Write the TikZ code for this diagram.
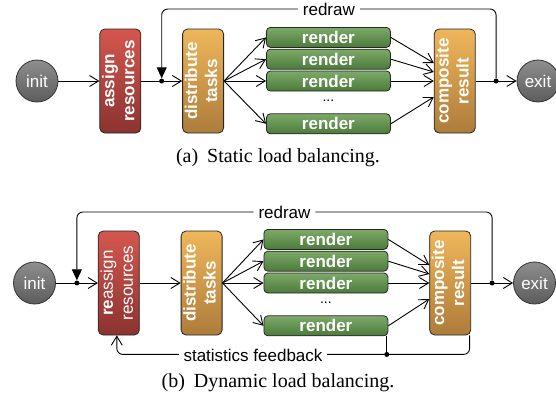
\documentclass[tikz,border=0pt]{standalone}
\usepackage{fontspec}
\setmainfont{Liberation Serif}
\setsansfont{Liberation Sans}
\usepackage{tikz}
\usetikzlibrary{positioning,calc,arrows.meta}
\definecolor{greytop}{HTML}{8E8E8E}
\definecolor{greybot}{HTML}{5C5C5C}
\definecolor{redtop}{HTML}{D4574F}
\definecolor{redbot}{HTML}{8B3330}
\definecolor{orangetop}{HTML}{EFB65A}
\definecolor{orangebot}{HTML}{AD7C3B}
\definecolor{greentop}{HTML}{7DAA68}
\definecolor{greenbot}{HTML}{4B7A3B}
\newcommand{\sansbig}{\sffamily\fontsize{17}{20}\selectfont}
\newcommand{\vtext}[2]{\rotatebox{90}{\begin{tabular}{@{}c@{}}#1\\#2\end{tabular}}}
\tikzstyle{term} = [circle, minimum size=42pt, inner sep=0pt, draw=black!80, line width=0.8pt, top color=greytop, bottom color=greybot, text=white, font=\sansbig]
\tikzstyle{bigbox} = [rectangle, rounded corners=5pt, minimum width=41pt, minimum height=104pt, inner sep=0pt, draw=black!85, line width=0.8pt, text=white, font=\sansbig\bfseries]
\tikzstyle{redbox} = [bigbox, top color=redtop, bottom color=redbot]
\tikzstyle{orangebox} = [bigbox, top color=orangetop, bottom color=orangebot]
\tikzstyle{renderbox} = [rectangle, rounded corners=4pt, minimum width=124pt, minimum height=20pt, inner sep=0pt, draw=black!85, line width=0.8pt, top color=greentop, bottom color=greenbot, text=white, font=\sansbig\bfseries]
\tikzstyle{gap} = [inner sep=0pt, font=\sffamily\fontsize{14}{14}\selectfont]
\tikzstyle{dot} = [circle, fill=black, inner sep=0pt, minimum size=5pt]
\tikzstyle{arrow} = [line width=0.9pt, -{Straight Barb[length=9pt,width=11pt]}]
\tikzstyle{loopback} = [line width=0.9pt, rounded corners=6pt, -{Triangle[length=11pt,width=10pt]}]
\tikzstyle{feedback} = [line width=0.9pt, rounded corners=6pt, -{Straight Barb[length=9pt,width=11pt]}]
\tikzstyle{lbl} = [fill=white, inner sep=5pt, font=\sansbig]
\tikzstyle{caption} = [font=\fontsize{20}{24}\selectfont]

\begin{document}
\begin{tikzpicture}
    \useasboundingbox (0,0) rectangle (556pt,-405pt);

    % (a) static
    \node (inita) [term] at (37pt,-81pt) {init};
    \node (assign) [redbox, right=41pt of inita] {\vtext{assign}{resources}};
    \node (dista) [orangebox, right=41pt of assign] {\vtext{distribute}{tasks}};
    \node (ra3) [renderbox, right=42pt of dista] {render};
    \node (ra2) [renderbox, above=1pt of ra3] {render};
    \node (ra1) [renderbox, above=1pt of ra2] {render};
    \node (ra5) [renderbox, below=22pt of ra3] {render};
    \node (dotsa) [gap, yshift=2pt] at ($(ra3)!.5!(ra5)$) {...};
    \node (compa) [orangebox, right=43pt of ra3] {\vtext{composite}{result}};
    \node (exita) [term, right=41pt of compa] {exit};

    \node (dota) [dot] at ($(assign.east)!.5!(dista.west)$) {};
    \node (dotb) [dot] at ($(compa.east)!.5!(exita.west)$) {};
    \coordinate (topa) at ($(dota)+(0,72pt)$);

    \draw [arrow] (inita) -- (assign);
    \draw [arrow] (assign) -- (dista);
    \draw [arrow] (dista.east) -- (ra1.west);
    \draw [arrow] (dista.east) -- (ra2.west);
    \draw [arrow] (dista.east) -- (ra3.west);
    \draw [arrow] (dista.east) -- (ra5.west);
    \draw [arrow] (ra1.east) -- ([yshift=18pt]compa.west);
    \draw [arrow] (ra2.east) -- ([yshift=9pt]compa.west);
    \draw [arrow] (ra3.east) -- (compa.west);
    \draw [arrow] (ra5.east) -- ([yshift=-16pt]compa.west);
    \draw [arrow] (compa) -- (exita);
    \draw [loopback] (dotb) |- node [pos=.75, lbl] {redraw} (topa) -- (dota);

    \node (capa) [caption] at (278pt,-158pt) {(a)\hspace{0.45em}Static load balancing.};

    % (b) dynamic
    \node (initb) [term] at (34.5pt,-283pt) {init};
    \node (reassign) [redbox, right=42pt of initb] {\vtext{\textbf{re}\mdseries assign}{\mdseries resources}};
    \node (distb) [orangebox, right=41pt of reassign] {\vtext{distribute}{tasks}};
    \node (rb3) [renderbox, right=41pt of distb] {render};
    \node (rb2) [renderbox, above=1pt of rb3] {render};
    \node (rb1) [renderbox, above=1pt of rb2] {render};
    \node (rb5) [renderbox, below=22pt of rb3] {render};
    \node (dotsb) [gap, yshift=2pt] at ($(rb3)!.5!(rb5)$) {...};
    \node (compb) [orangebox, right=41pt of rb3] {\vtext{composite}{result}};
    \node (exitb) [term, right=42pt of compb] {exit};

    \node (dotc) [dot] at ($(initb.east)!.5!(reassign.west)$) {};
    \node (dotd) [dot] at ($(compb.east)!.5!(exitb.west)$) {};
    \coordinate (topb) at ($(dotc)+(0,71pt)$);
    \coordinate (fbr) at ($(compb.south east)+(-1.5pt,-19pt)$);
    \coordinate (r5c) at ($(rb5.south east)+(-1.5pt,0)$);
    \node (dote) [dot] at (r5c |- fbr) {};

    \draw [arrow] (initb) -- (reassign);
    \draw [arrow] (reassign) -- (distb);
    \draw [arrow] (distb.east) -- (rb1.west);
    \draw [arrow] (distb.east) -- (rb2.west);
    \draw [arrow] (distb.east) -- (rb3.west);
    \draw [arrow] (distb.east) -- (rb5.west);
    \draw [arrow] (rb1.east) -- ([yshift=18pt]compb.west);
    \draw [arrow] (rb2.east) -- ([yshift=9pt]compb.west);
    \draw [arrow] (rb3.east) -- (compb.west);
    \draw [arrow] (rb5.east) -- ([yshift=-16pt]compb.west);
    \draw [arrow] (compb) -- (exitb);
    \draw [loopback] (dotd) |- node [pos=.75, lbl] {redraw} (topb) -- (dotc);
    \draw [feedback] ([xshift=-1.5pt]compb.south east) -- (fbr) -| ([xshift=-2pt]reassign.south);
    \draw [line width=0.9pt] (r5c) -- (dote);
    \node (fblabel) [lbl] at (253pt,-355pt) {statistics feedback};

    \node (capb) [caption] at (278pt,-383pt) {(b)\hspace{0.45em}Dynamic load balancing.};
\end{tikzpicture}
\end{document}
